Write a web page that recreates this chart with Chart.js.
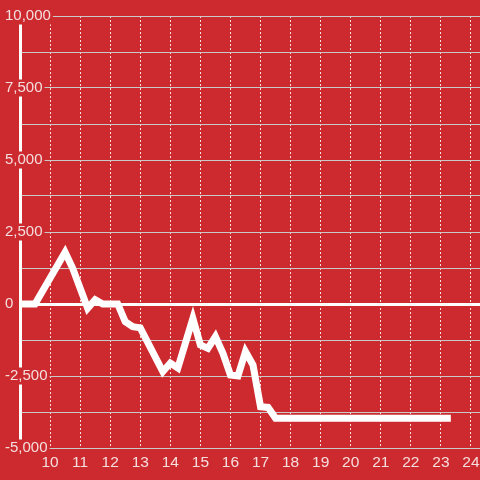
<!DOCTYPE html>
<html>
<head>
<meta charset="utf-8">
<script src="https://cdn.jsdelivr.net/npm/chart.js@4"></script>
<style>
  html, body { margin: 0; padding: 0; background: #cc2a2f; }
  canvas { display: block; }
</style>
</head>
<body>
<canvas id="chart" width="480" height="480"></canvas>
<script>
// hours of the day and running balance
var hours = [8.75, 9.5, 10.5, 10.75, 11.25, 11.5, 11.75, 12.25, 12.5, 12.75, 13, 13.75, 14, 14.25, 14.75, 15, 15.25, 15.5, 15.75, 16, 16.25, 16.5, 16.75, 17, 17.25, 17.5, 23.33];
var balance = [0, 0, 1800, 1250, -150, 150, 0, 0, -615, -790, -830, -2350, -2050, -2220, -500, -1420, -1540, -1130, -1710, -2465, -2500, -1650, -2120, -3565, -3590, -3970, -3970];

var xTicks = [10, 11, 12, 13, 14, 15, 16, 17, 18, 19, 20, 21, 22, 23, 24];
var yTicks = [-5000, -3750, -2500, -1250, 0, 1250, 2500, 3750, 5000, 6250, 7500, 8750, 10000];
var yLabels = ['-5,000', '', '-2,500', '', '0', '', '2,500', '', '5,000', '', '7,500', '', '10,000'];

var bg = '#cc2a2f';
var textColor = '#f5dede';
var family = "'Liberation Sans', Arial, sans-serif";

new Chart(document.getElementById('chart'), {
    type: 'line',
    data: {
        datasets: [{
            data: hours.map(function (h, i) { return { x: h, y: balance[i] }; }),
            borderColor: '#ffffff',
            borderWidth: 7,
            pointRadius: 0,
            tension: 0,
            fill: false
        }]
    },
    options: {
        responsive: false,
        animation: false,
        layout: { padding: { top: 16, left: 3, right: 0, bottom: 0 } },
        plugins: {
            legend: { display: false },
            tooltip: { enabled: false }
        },
        scales: {
            x: {
                type: 'linear',
                min: 9,
                max: 24.3,
                afterBuildTicks: function (s) {
                    s.ticks = xTicks.map(function (v) { return { value: v }; });
                },
                afterFit: function (s) {
                    s.height = 32;
                    s.paddingLeft = 0;
                    s.paddingRight = 0;
                },
                grid: {
                    color: 'rgba(255,255,255,0.85)',
                    lineWidth: 1,
                    drawTicks: false
                },
                border: { display: false, dash: [2, 2] },
                ticks: {
                    color: textColor,
                    font: { size: 15.5, family: family },
                    padding: 5,
                    maxRotation: 0
                }
            },
            y: {
                min: -5000,
                max: 10000,
                afterBuildTicks: function (s) {
                    s.ticks = yTicks.map(function (v) { return { value: v }; });
                },
                afterFit: function (s) {
                    s.width = 17;
                    s.paddingTop = 0;
                    s.paddingBottom = 0;
                },
                grid: {
                    // 零線加粗
                    color: function (c) { return c.tick && c.tick.value === 0 ? '#ffffff' : '#c9c9c9'; },
                    lineWidth: function (c) { return c.tick && c.tick.value === 0 ? 3 : 1; },
                    drawTicks: false
                },
                border: { display: true, color: '#ffffff', width: 3 },
                ticks: {
                    color: textColor,
                    font: { size: 15, family: family, lineHeight: 1 },
                    mirror: true,
                    crossAlign: 'near',
                    padding: -15,
                    showLabelBackdrop: true,
                    backdropColor: bg,
                    backdropPadding: { x: 2, y: 1 },
                    callback: function (value, index) { return yLabels[index]; }
                }
            }
        }
    }
});
</script>
</body>
</html>
